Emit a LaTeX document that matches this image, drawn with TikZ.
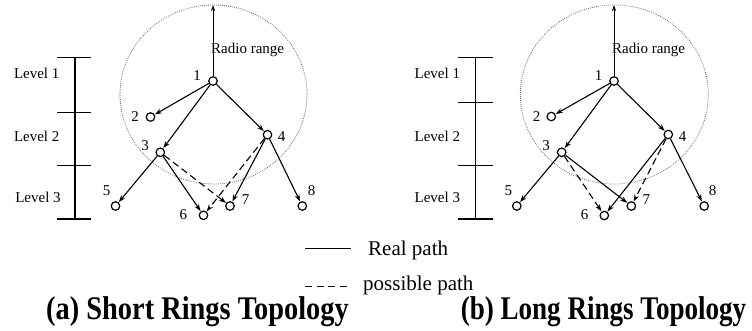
\documentclass[tikz,border=0pt]{standalone}
\usepackage{fontspec}
\setmainfont{Liberation Serif}
\usetikzlibrary{arrows.meta}
\begin{document}
\begin{tikzpicture}[x=1pt,y=-1pt,
  nd/.style={circle,draw,line width=1.2pt,minimum size=8.5pt,inner sep=0pt,fill=white},
  lbl/.style={font=\fontsize{15}{15}\selectfont,inner sep=0pt},
  real/.style={-{Stealth[length=7pt,width=5pt]},line width=1.1pt,shorten >=0.3pt},
  poss/.style={real,dash pattern=on 7pt off 4pt},
  rangecircle/.style={draw=black!60,dash pattern=on 0.8pt off 1.2pt,line width=0.8pt},
  radio/.style={-{Stealth[length=6pt,width=4pt]},line width=0.8pt},
  bar/.style={line width=1.1pt},
  leg/.style={font=\fontsize{21}{21}\selectfont,inner sep=0pt,anchor=base west},
  captiontext/.style={font=\fontsize{33}{33}\selectfont\bfseries,inner sep=0pt,anchor=base}]
\useasboundingbox (0,0) rectangle (752,330);

% ---------- panel (a) ----------
\draw[rangecircle] (213.5,94.5) ellipse [x radius=93.5,y radius=89.5];
\node[nd] (a1) at (213,81) {};
\node[nd] (a2) at (150.5,117) {};
\node[nd] (a3) at (160.3,152.3) {};
\node[nd] (a4) at (267.5,134.7) {};
\node[nd] (a5) at (115.5,206) {};
\node[nd] (a6) at (203.5,215.3) {};
\node[nd] (a7) at (230,206) {};
\node[nd] (a8) at (302.3,206) {};
\coordinate (atop) at (213,5);
\node[lbl] (la1) at (197,75.5) {1};
\node[lbl] (la2) at (135,117) {2};
\node[lbl] (la3) at (145,145.5) {3};
\node[lbl] (la4) at (281.7,136.7) {4};
\node[lbl] (la5) at (106.7,190.7) {5};
\node[lbl] (la6) at (183.3,215) {6};
\node[lbl] (la7) at (245.7,199.3) {7};
\node[lbl] (la8) at (311.7,190.7) {8};
\node[lbl,anchor=base west] (arr) at (211,53.3) {Radio range};
\draw[radio] (a1.north) -- (atop);
\draw[real] (a1) -- (a2);
\draw[real] (a1) -- (a3);
\draw[real] (a1) -- (a4);
\draw[real] (a3) -- (a5);
\draw[real] (a3) -- (a6);
\draw[real] (a4) -- (a7);
\draw[real] (a4) -- (a8);
\draw[poss] (a3) -- (a7);
\draw[poss] (a4) -- (a6);
% level bar (a)
\coordinate (ab0) at (75,57.7);
\coordinate (ab3) at (75,219);
\draw[bar] (ab0) -- (ab3);
\draw[bar] (57,57.7) -- (91,57.7);
\draw[bar] (57,112.7) -- (91,112.7);
\draw[bar] (57,165.7) -- (91,165.7);
\draw[bar] (57,219) -- (91,219);
\node[lbl] (alv1) at (36.7,73) {Level 1};
\node[lbl] (alv2) at (36.7,136.7) {Level 2};
\node[lbl] (alv3) at (38,197) {Level 3};

% ---------- panel (b) ----------
\draw[rangecircle] (614.3,94.5) ellipse [x radius=94,y radius=89.5];
\node[nd] (b1) at (614,81) {};
\node[nd] (b2) at (551.3,116.5) {};
\node[nd] (b3) at (561.7,152.3) {};
\node[nd] (b4) at (668.3,134.5) {};
\node[nd] (b5) at (516.8,206) {};
\node[nd] (b6) at (604.3,215.5) {};
\node[nd] (b7) at (631.3,206) {};
\node[nd] (b8) at (704.2,206) {};
\coordinate (btop) at (614,5);
\node[lbl] (lb1) at (598.7,75.5) {1};
\node[lbl] (lb2) at (536.5,117) {2};
\node[lbl] (lb3) at (546,145.5) {3};
\node[lbl] (lb4) at (682.7,136.7) {4};
\node[lbl] (lb5) at (508.3,190.7) {5};
\node[lbl] (lb6) at (584.5,215) {6};
\node[lbl] (lb7) at (646.3,199.3) {7};
\node[lbl] (lb8) at (712.5,190.7) {8};
\node[lbl,anchor=base west] (brr) at (612,53.3) {Radio range};
\draw[radio] (b1.north) -- (btop);
\draw[real] (b1) -- (b2);
\draw[real] (b1) -- (b3);
\draw[real] (b1) -- (b4);
\draw[real] (b3) -- (b5);
\draw[real] (b3) -- (b7);
\draw[real] (b4) -- (b6);
\draw[real] (b4) -- (b8);
\draw[poss] (b3) -- (b6);
\draw[poss] (b4) -- (b7);
% level bar (b)
\coordinate (bb0) at (475.3,57.7);
\coordinate (bb3) at (475.3,219);
\draw[bar] (bb0) -- (bb3);
\draw[bar] (458.3,57.7) -- (493.3,57.7);
\draw[bar] (458.3,102.7) -- (493.3,102.7);
\draw[bar] (458.3,165.7) -- (493.3,165.7);
\draw[bar] (458.3,219) -- (493.3,219);
\node[lbl] (blv1) at (437.3,73) {Level 1};
\node[lbl] (blv2) at (437.3,136.7) {Level 2};
\node[lbl] (blv3) at (437.3,197) {Level 3};

% ---------- legend ----------
\coordinate (r0) at (305,248);
\coordinate (r1) at (351,248);
\draw[line width=1pt] (r0) -- (r1);
\node[leg] (treal) at (368,255) {Real path};
\coordinate (p0) at (305,286);
\coordinate (p1) at (351,286);
\draw[line width=1pt,dash pattern=on 7pt off 4.5pt] (p0) -- (p1);
\node[leg] (tposs) at (363,290) {possible path};

% ---------- captions ----------
\node[captiontext] (capa) at (197.5,319) {\scalebox{0.86}[1]{(a) Short Rings Topology}};
\node[captiontext] (capb) at (603.5,319) {\scalebox{0.82}[1]{(b) Long Rings Topology}};
\end{tikzpicture}
\end{document}
